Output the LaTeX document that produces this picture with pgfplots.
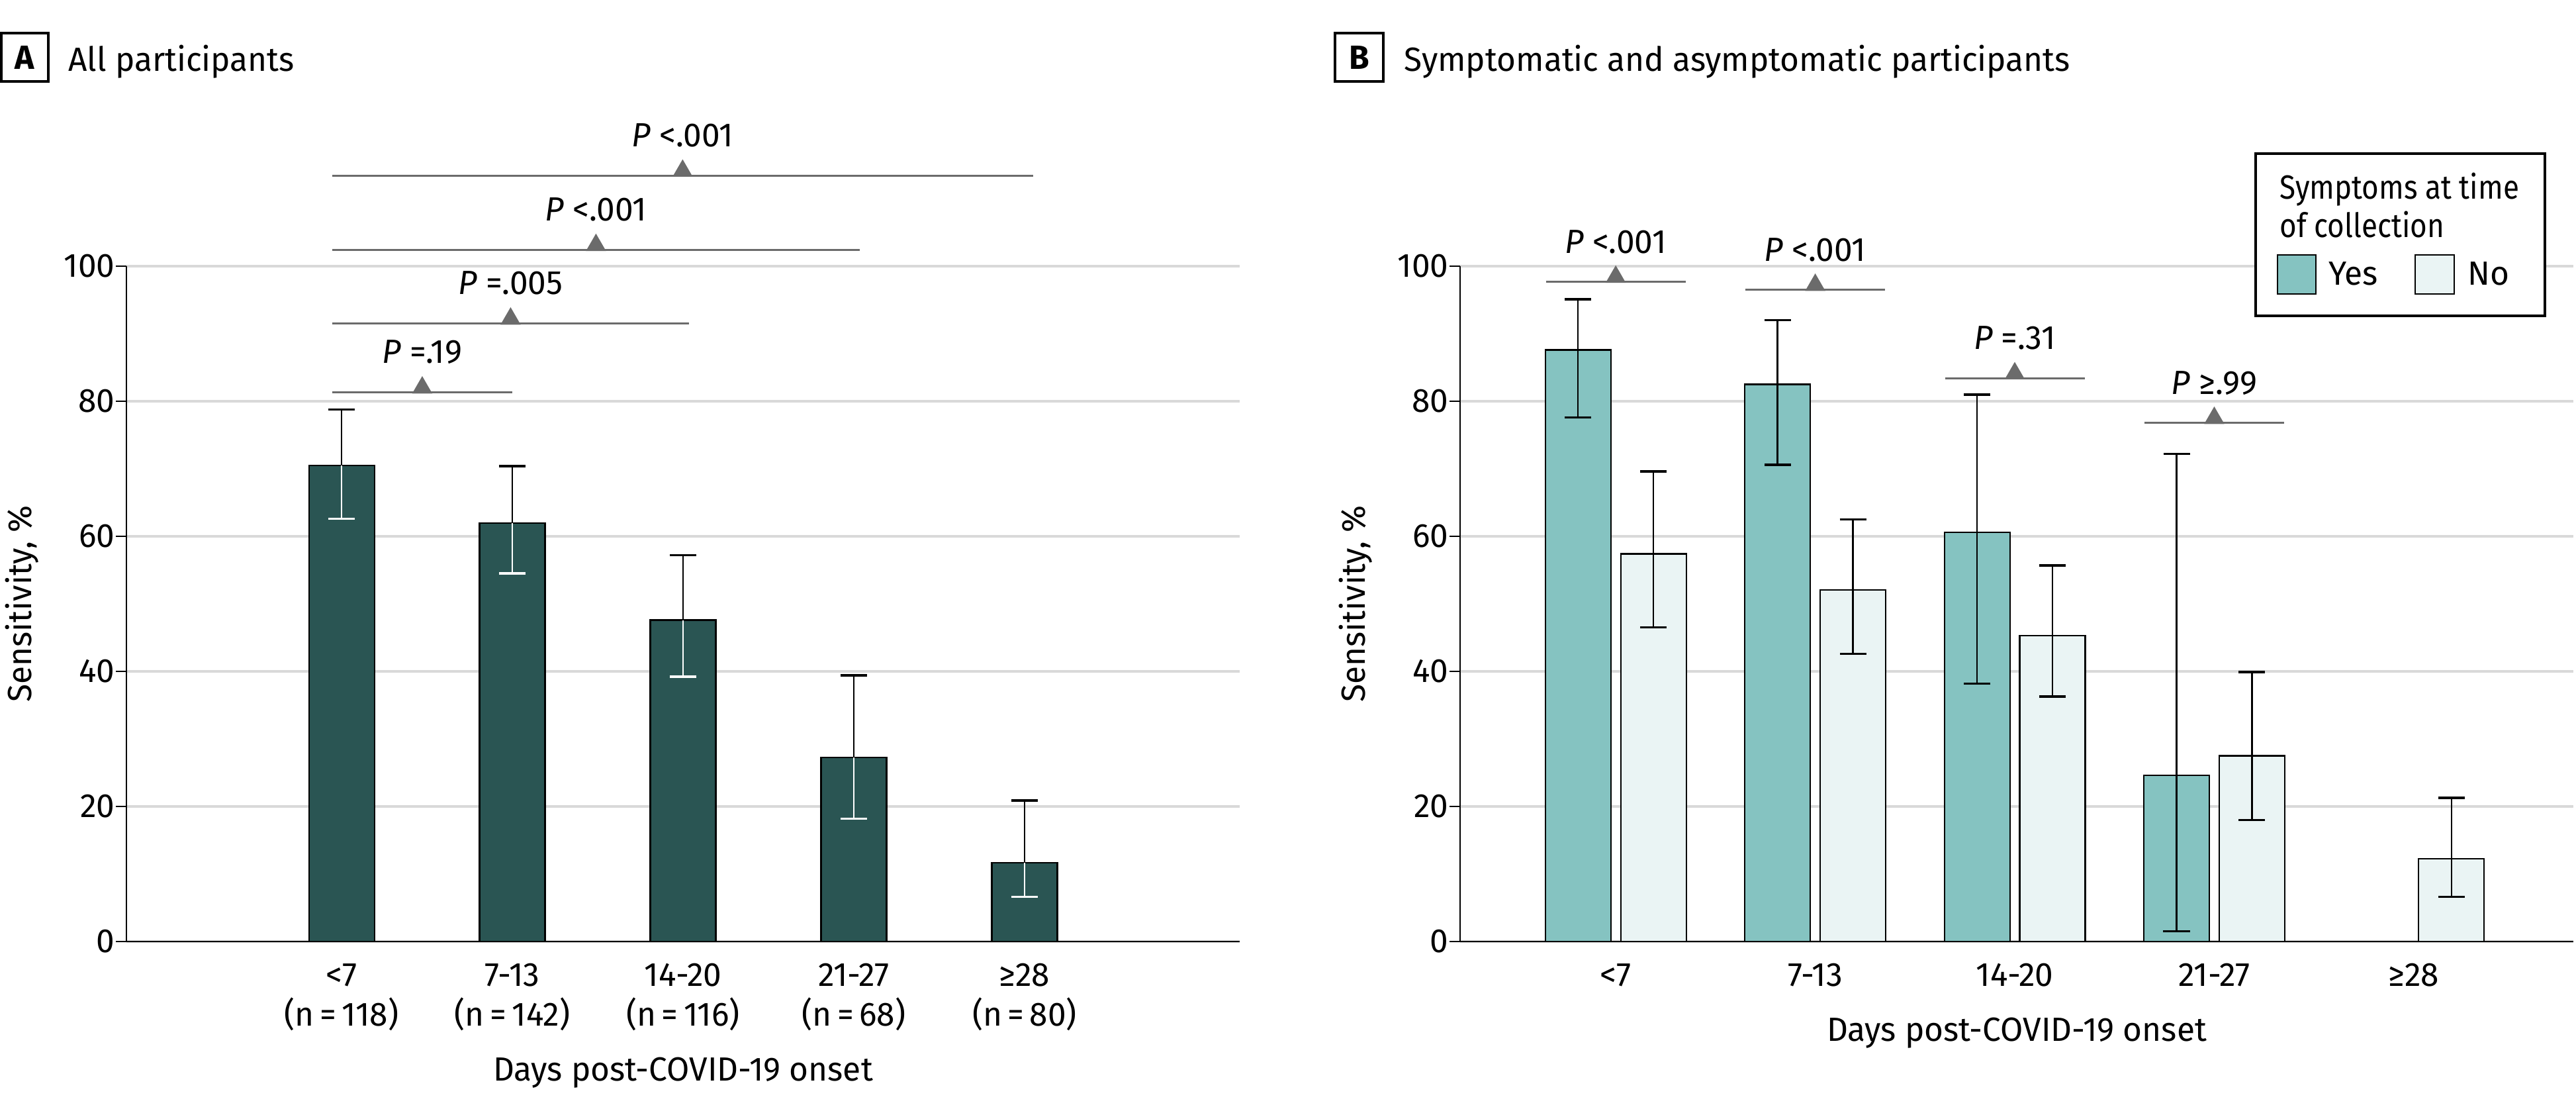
\documentclass[border=0pt]{standalone}
\usepackage{fontspec}
\setmainfont{Fira Sans}[FakeStretch=0.98]
\newfontfamily\legfont{Fira Sans}[FakeStretch=0.87]
\usepackage{pgfplots}
\pgfplotsset{compat=1.18}
\usepackage{pgfplotstable}

\definecolor{darkteal}{HTML}{2A5553}
\definecolor{yesteal}{HTML}{85C3C1}
\definecolor{nopale}{HTML}{EAF4F4}
\definecolor{gridgray}{HTML}{D9D9D9}
\definecolor{brgray}{HTML}{6B6B6B}

% sensitivity, % with 95% CI bounds
\pgfplotstableread{
x y lo hi
0 70.5 62.6 78.8
1 62.0 54.5 70.4
2 47.6 39.2 57.2
3 27.3 18.2 39.4
4 11.7 6.6 20.9
}\allpart

\pgfplotstableread{
x y lo hi
0 87.6 77.6 95.1
1 82.5 70.6 92.0
2 60.6 38.2 81.0
3 24.6 1.5 72.2
}\symyes

\pgfplotstableread{
x y lo hi
0 57.4 46.5 69.6
1 52.1 42.6 62.5
2 45.3 36.3 55.7
3 27.5 18.0 39.9
4 12.3 6.6 21.3
}\symno

\pgfplotsset{
  jamaax/.style={
    scale only axis, width=8.41cm, height=5.1cm,
    ymin=0, ymax=100, ytick={0,20,...,100},
    axis x line=bottom, axis y line=left,
    axis line style={-, black, line width=0.35pt},
    tick style={black, line width=0.35pt},
    tick align=outside, major tick length=0.08cm,
    x tick style={draw=none},
    ymajorgrids, grid style={gridgray, line width=0.6pt},
    xtick={0,...,4},
    /pgf/number format/assume math mode=true,
    yticklabel style={anchor=east, inner sep=0pt},
    xticklabel style={anchor=north, inner sep=0pt, align=center, yshift=-0.08cm},
    every axis y label/.style={at={(axis description cs:-0.0856,0.5)}, rotate=90, anchor=base},
    ylabel={Sensitivity, \%},
    clip=false,
  },
  bracket/.style={brgray, line width=0.45pt, mark=triangle*, mark indices={2},
    mark size=0.072cm, mark options={brgray, yshift=0.036cm}},
  error bars/errbar/.style={error bar style={#1, line width=0.35pt},
    error mark options={#1, rotate=90, line width=0.5pt, mark size=0.1cm}},
  nomark/.style={only marks, mark=text, text mark={}},
}

\begin{document}
\fontsize{7.2}{8.55}\selectfont
\begin{tikzpicture}
\useasboundingbox (0,0) rectangle (19.46,8.415);

% ---- panel A
\begin{axis}[jamaax, at={(0.955cm,1.305cm)}, anchor=south west,
  xmin=-1.26, xmax=5.26,
  xticklabels={{<7\\(n\,=\,118)},{7-13\\(n\,=\,142)},{14-20\\(n\,=\,116)},{21-27\\(n\,=\,68)},{≥28\\(n\,=\,80)}},
  every axis x label/.style={at={(axis description cs:0.5,0)}, anchor=base, yshift=-1.05cm},
  xlabel={Days post-COVID-19 onset},
]
\addplot[ybar, bar width=0.495cm, bar shift=0pt, fill=darkteal, draw=black, line width=0.3pt]
  table[x=x, y=y] {\allpart};
% CI: upper arm black, lower arm (inside the bar) white
\addplot[forget plot, nomark, black,
  error bars/.cd, y dir=plus, y explicit, errbar=black]
  table[x=x, y=y, y error plus expr=\thisrow{hi}-\thisrow{y}] {\allpart};
\addplot[forget plot, nomark, white,
  error bars/.cd, y dir=minus, y explicit, errbar=white]
  table[x=x, y=y, y error minus expr=\thisrow{y}-\thisrow{lo}] {\allpart};

\addplot[bracket] coordinates {(-0.055,81.3) (0.4725,81.3) (1.0,81.3)};
\addplot[bracket] coordinates {(-0.055,91.5) (0.99,91.5) (2.035,91.5)};
\addplot[bracket] coordinates {(-0.055,102.4) (1.49,102.4) (3.035,102.4)};
\addplot[bracket] coordinates {(-0.055,113.4) (1.9975,113.4) (4.05,113.4)};
\node[anchor=base] at (axis cs:0.4725,85.6) {\textit{P} =.19};
\node[anchor=base] at (axis cs:0.99,95.8) {\textit{P} =.005};
\node[anchor=base] at (axis cs:1.49,106.7) {\textit{P} <.001};
\node[anchor=base] at (axis cs:1.9975,117.7) {\textit{P} <.001};
\end{axis}

% ---- panel B
\begin{axis}[jamaax, at={(11.03cm,1.305cm)}, anchor=south west,
  xmin=-0.78, xmax=4.8,
  xticklabels={<7,7-13,14-20,21-27,≥28},
  every axis x label/.style={at={(axis description cs:0.5,0)}, anchor=base, yshift=-0.75cm},
  xlabel={Days post-COVID-19 onset},
]
\addplot[ybar, bar width=0.495cm, bar shift=0pt, fill=yesteal, draw=black, line width=0.3pt]
  table[x expr=\thisrow{x}-0.189, y=y] {\symyes};
\addplot[ybar, bar width=0.495cm, bar shift=0pt, fill=nopale, draw=black, line width=0.3pt]
  table[x expr=\thisrow{x}+0.189, y=y] {\symno};
\addplot[forget plot, nomark, black,
  error bars/.cd, y dir=both, y explicit, errbar=black]
  table[x expr=\thisrow{x}-0.189, y=y, y error plus expr=\thisrow{hi}-\thisrow{y},
        y error minus expr=\thisrow{y}-\thisrow{lo}] {\symyes};
\addplot[forget plot, nomark, black,
  error bars/.cd, y dir=both, y explicit, errbar=black]
  table[x expr=\thisrow{x}+0.189, y=y, y error plus expr=\thisrow{hi}-\thisrow{y},
        y error minus expr=\thisrow{y}-\thisrow{lo}] {\symno};

\addplot[bracket] coordinates {(-0.35,97.7) (0,97.7) (0.35,97.7)};
\addplot[bracket] coordinates {(0.65,96.5) (1,96.5) (1.35,96.5)};
\addplot[bracket] coordinates {(1.65,83.4) (2,83.4) (2.35,83.4)};
\addplot[bracket] coordinates {(2.65,76.8) (3,76.8) (3.35,76.8)};
\node[anchor=base] at (axis cs:0,101.9) {\textit{P} <.001};
\node[anchor=base] at (axis cs:1,100.7) {\textit{P} <.001};
\node[anchor=base] at (axis cs:2,87.7) {\textit{P} =.31};
\node[anchor=base] at (axis cs:3,81.0) {\textit{P} ≥.99};
\end{axis}

% ---- panel titles
\draw[line width=0.45pt] (0.01,7.8) rectangle (0.365,8.165);
\node[font=\bfseries, inner sep=0pt] at (0.1875,7.9825) {A};
\node[anchor=base west, inner sep=0pt] at (0.51,7.88) {All participants};
\draw[line width=0.45pt] (10.085,7.8) rectangle (10.45,8.165);
\node[font=\bfseries, inner sep=0pt] at (10.2675,7.9825) {B};
\node[anchor=base west, inner sep=0pt] at (10.6,7.88) {Symptomatic and asymptomatic participants};

% ---- legend of panel B
\draw[line width=0.45pt, fill=white] (17.04,6.03) rectangle (19.225,7.255);
\node[anchor=base west, inner sep=0pt, font=\legfont] at (17.215,6.915) {Symptoms at time};
\node[anchor=base west, inner sep=0pt, font=\legfont] at (17.215,6.625) {of collection};
\draw[line width=0.3pt, fill=yesteal] (17.205,6.195) rectangle (17.495,6.49);
\node[anchor=base west, inner sep=0pt] at (17.585,6.265) {Yes};
\draw[line width=0.3pt, fill=nopale] (18.245,6.195) rectangle (18.54,6.49);
\node[anchor=base west, inner sep=0pt] at (18.635,6.265) {No};
\end{tikzpicture}
\end{document}
